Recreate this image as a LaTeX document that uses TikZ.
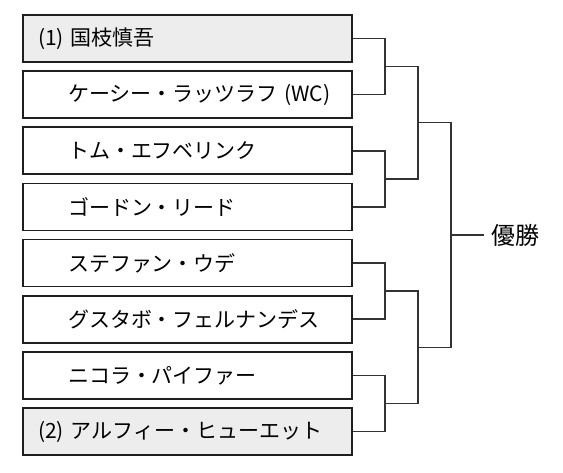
\documentclass[tikz,border=0pt]{standalone}
\usepackage{fontspec}
\setmainfont{Noto Sans CJK JP}
\begin{document}
\begin{tikzpicture}[x=1pt,y=-1pt,
  entry/.style={draw=black!88, line width=1.8pt, minimum height=47pt, text width=299pt,
    inner xsep=15pt, inner ysep=0pt, align=left, font=\fontsize{21}{24}\selectfont, fill=white},
  seed/.style={entry, fill=black!7},
  link/.style={draw=black!80, line width=1.5pt}]
\useasboundingbox (0,0) rectangle (563,473);
\def\p{56.14}
\node[seed]  (b1) at (187.5,{38.5+0*\p}) {(1) 国枝慎吾};
\node[entry] (b2) at (187.5,{38.5+1*\p}) {\hspace*{30pt}ケーシー・ラッツラフ (WC)};
\node[entry] (b3) at (187.5,{38.5+2*\p}) {\hspace*{30pt}トム・エフベリンク};
\node[entry] (b4) at (187.5,{38.5+3*\p}) {\hspace*{30pt}ゴードン・リード};
\node[entry] (b5) at (187.5,{38.5+4*\p}) {\hspace*{30pt}ステファン・ウデ};
\node[entry] (b6) at (187.5,{38.5+5*\p}) {\hspace*{30pt}グスタボ・フェルナンデス};
\node[entry] (b7) at (187.5,{38.5+6*\p}) {\hspace*{30pt}ニコラ・パイファー};
\node[seed]  (b8) at (187.5,{38.5+7*\p}) {(2) アルフィー・ヒューエット};
% round 1
\coordinate (m1) at (385,{38.5+0.5*\p});
\coordinate (m2) at (385,{38.5+2.5*\p});
\coordinate (m3) at (385,{38.5+4.5*\p});
\coordinate (m4) at (385,{38.5+6.5*\p});
\draw[link] (b1.east) -| (m1) |- (b2.east);
\draw[link] (b3.east) -| (m2) |- (b4.east);
\draw[link] (b5.east) -| (m3) |- (b6.east);
\draw[link] (b7.east) -| (m4) |- (b8.east);
% round 2
\coordinate (s1) at (418,{38.5+1.5*\p});
\coordinate (s2) at (418,{38.5+5.5*\p});
\draw[link] (m1) -| (s1) |- (m2);
\draw[link] (m3) -| (s2) |- (m4);
% final
\coordinate (f) at (451,{38.5+3.5*\p});
\draw[link] (s1) -| (f) |- (s2);
\node[anchor=west, inner sep=0pt, font=\fontsize{24}{28}\selectfont] (win) at (491,{38.5+3.5*\p}) {優勝};
\draw[link] (f) -- ++(33,0);
\end{tikzpicture}
\end{document}
